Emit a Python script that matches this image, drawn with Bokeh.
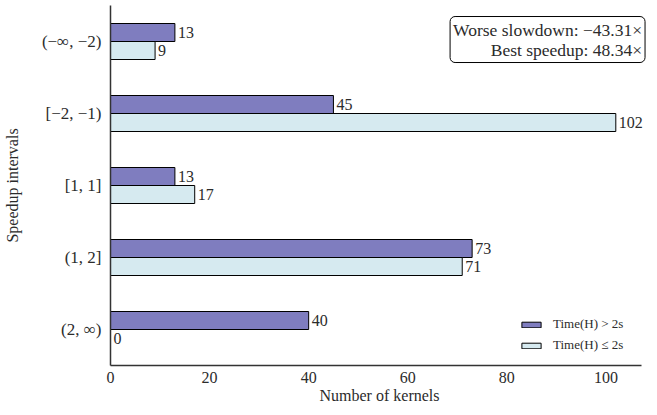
from bokeh.plotting import figure
from bokeh.models import Range1d, FactorRange, ColumnDataSource, Label, Legend, LegendItem
from bokeh.transform import dodge
from bokeh.embed import file_html
from bokeh.resources import INLINE
from bokeh.core.properties import value

categories = ["(−∞, −2)", "[−2, −1)", "[1, 1]", "(1, 2]", "(2, ∞)"]
long_counts = [13, 45, 13, 73, 40]
short_counts = [9, 102, 17, 71, 0]
series_names = ["Time(H) > 2s", "Time(H) ≤ 2s"]
note_text = "Worse slowdown: −43.31×\nBest speedup: 48.34×"

FONT = "Liberation Serif"
PURPLE = "#7f7dbf"
LIGHT = "#d6eaf0"
TXT = "#2b2b2b"

src = ColumnDataSource(dict(
    cat=categories,
    long=long_counts,
    short=short_counts,
    long_lbl=[str(v) for v in long_counts],
    short_lbl=[str(v) for v in short_counts],
))

p = figure(frame_width=538, frame_height=360, output_backend="svg", toolbar_location=None,
           y_range=FactorRange(factors=categories[::-1], range_padding=0),
           x_range=Range1d(0, 108.6),
           min_border_left=102, min_border_right=0, min_border_top=5, min_border_bottom=0)

r1 = p.hbar(y=dodge("cat", 0.125, range=p.y_range), right="long", left=0, height=0.25,
            source=src, fill_color=PURPLE, line_color="black", line_width=1)
r2 = p.hbar(y=dodge("cat", -0.125, range=p.y_range), right="short", left=0, height=0.25,
            source=src, fill_color=LIGHT, line_color="black", line_width=1)

p.text(x="long", y=dodge("cat", 0.125, range=p.y_range), text="long_lbl", source=src,
       x_offset=3, text_baseline="middle", text_align="left",
       text_font=value(FONT), text_font_size="16px", text_color=TXT)
p.text(x="short", y=dodge("cat", -0.125, range=p.y_range), text="short_lbl", source=src,
       x_offset=3, text_baseline="middle", text_align="left",
       text_font=value(FONT), text_font_size="16px", text_color=TXT)

legend = Legend(items=[LegendItem(label=series_names[0], renderers=[r1]),
                       LegendItem(label=series_names[1], renderers=[r2])],
                location=(409, 12), border_line_color=None, background_fill_alpha=0,
                label_text_font=FONT, label_text_font_size="13px", label_text_color=TXT,
                glyph_width=24, glyph_height=7, label_height=12, spacing=5,
                margin=0, padding=4, label_standoff=10)
p.add_layout(legend)

note = Label(x=107.9, y=4.847, x_units="data", y_units="data", text=note_text,
             text_align="right", text_baseline="top",
             text_font=FONT, text_font_size="17.5px", text_color=TXT,
             border_line_color="black", border_line_width=1,
             background_fill_color="white", padding=3, border_radius=5,
             text_line_height=1.0)
p.add_layout(note)

p.xgrid.visible = False
p.ygrid.visible = False
p.outline_line_color = None

for ax in (p.xaxis[0], p.yaxis[0]):
    ax.axis_line_color = "#333333"
    ax.axis_line_width = 1.5
    ax.major_tick_line_color = None
    ax.minor_tick_line_color = None
    ax.major_tick_out = 0
    ax.major_tick_in = 0
    ax.minor_tick_out = 0
    ax.minor_tick_in = 0
    ax.major_label_text_font = FONT
    ax.major_label_text_font_size = "17px"
    ax.major_label_text_color = TXT
    ax.axis_label_text_font = FONT
    ax.axis_label_text_font_size = "16px"
    ax.axis_label_text_font_style = "normal"
    ax.axis_label_text_color = TXT

p.xaxis.major_label_text_font_size = "16px"
p.xaxis.axis_label = "Number of kernels"
p.yaxis.axis_label = "Speedup intervals"
p.xaxis.ticker = [0, 20, 40, 60, 80, 100]
p.xaxis.bounds = (0, 107.2)
p.xaxis.major_label_standoff = 6
p.xaxis.axis_label_standoff = 1
p.yaxis.major_label_standoff = 9
p.yaxis.axis_label_standoff = 18

open("out.html", "w").write(file_html(p, INLINE))
